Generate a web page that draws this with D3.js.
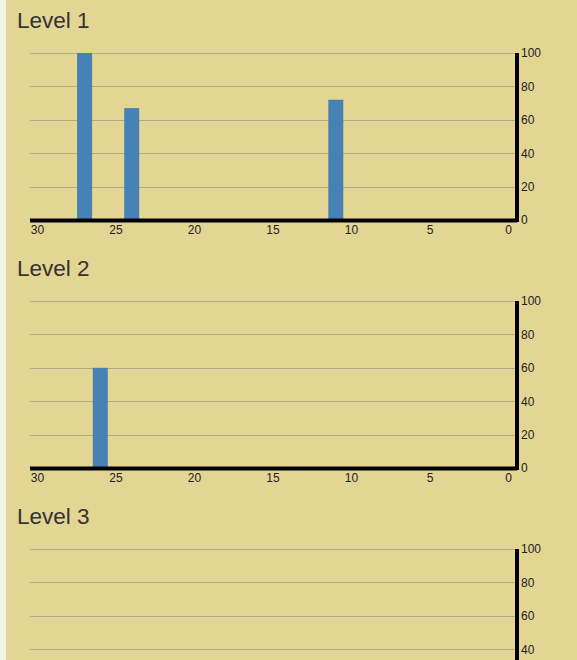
<!DOCTYPE html>
<meta charset="utf-8">
<script src="https://d3js.org/d3.v7.min.js"></script>
<style>
  body { margin: 0; background: #e3d593; font-family: Arial, "Liberation Sans", sans-serif; }
  #wrap { border-left: 6px solid #f3f1e2; min-height: 660px; }
  svg { display: block; }
  .grid line { stroke: #b3ab88; stroke-width: 1; }
  .tick text { font-size: 12px; fill: #222; }
</style>
<div id="wrap"></div>
<script>
// days counting down, 30 .. 0
const days = d3.range(30, -1, -1);
const xTicks = [30, 25, 20, 15, 10, 5, 0];
const yTicks = [0, 20, 40, 60, 80, 100];

const levels = ["Level 1", "Level 2", "Level 3"];
// bars per level: day -> percent
const level1Days = [27, 24, 11];
const level1Vals = [100, 67, 72];
const level2Days = [26];
const level2Vals = [60];
const level3Days = [];
const level3Vals = [];

const series = [
  [level1Days, level1Vals],
  [level2Days, level2Vals],
  [level3Days, level3Vals]
];

const w = 571, h = 248;
const mLeft = 24, mRight = 510, mTop = 53, mBottom = 220;

const x = d3.scaleBand().domain(days).range([mLeft, mRight]).paddingInner(0.045);
const y = d3.scaleLinear().domain([0, 100]).range([mBottom, mTop]);

levels.forEach((name, i) => {
  const svg = d3.select("#wrap").append("svg")
      .attr("width", w)
      .attr("height", h);

  svg.append("text")
      .attr("x", 11)
      .attr("y", 28)
      .attr("font-size", 22.5)
      .attr("fill", "#333")
      .text(name);

  // grid lines
  svg.append("g")
      .attr("class", "grid")
      .selectAll("line")
      .data(yTicks.filter(d => d > 0))
      .join("line")
        .attr("x1", mLeft)
        .attr("x2", mRight)
        .attr("y1", d => Math.round(y(d)) + 0.5)
        .attr("y2", d => Math.round(y(d)) + 0.5);

  const [ds, vs] = series[i];
  svg.append("g")
    .selectAll("rect")
    .data(ds.map((d, j) => ({day: d, v: vs[j]})))
    .join("rect")
      .attr("x", d => x(d.day))
      .attr("width", x.bandwidth())
      .attr("y", d => y(d.v))
      .attr("height", d => y(0) - y(d.v))
      .attr("fill", "steelblue");

  // x axis
  const gx = svg.append("g")
      .attr("transform", `translate(0,${mBottom})`)
      .call(d3.axisBottom(x).tickValues(xTicks).tickSize(0).tickPadding(5));
  gx.select(".domain").remove();
  gx.append("line")
      .attr("x1", mLeft).attr("x2", mRight + 1)
      .attr("y1", 0.5).attr("y2", 0.5)
      .attr("stroke", "#000").attr("stroke-width", 4);

  // y axis on the right
  const gy = svg.append("g")
      .attr("transform", `translate(${mRight + 1},0)`)
      .call(d3.axisRight(y).tickValues(yTicks).tickSize(0).tickPadding(4));
  gy.select(".domain").remove();
  gy.append("line")
      .attr("x1", 0).attr("x2", 0)
      .attr("y1", mTop).attr("y2", mBottom + 2)
      .attr("stroke", "#000").attr("stroke-width", 4);
});
</script>
